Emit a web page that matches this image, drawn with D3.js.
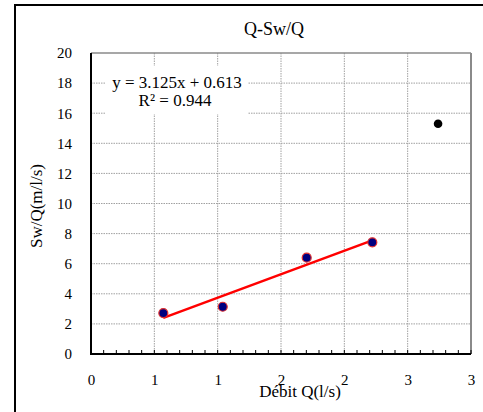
<!DOCTYPE html>
<html><head><meta charset="utf-8">
<script src="https://cdn.jsdelivr.net/npm/d3@7"></script>
<style>body{margin:0;background:#fff}svg{display:block}svg text{font-family:"Liberation Serif","Times New Roman",serif !important;fill:#000}</style>
</head><body><div id="chart"></div>
<script>
const fitX = [0.571, 1.040, 1.703, 2.221];
const fitY = [2.72, 3.14, 6.40, 7.42];
const outX = [2.74];
const outY = [15.3];
const slope = 3.125, intercept = 0.613, r2 = 0.944;
const xTicks = [0, 0.5, 1, 1.5, 2, 2.5, 3];
const xTickLabels = ["0", "1", "1", "2", "2", "3", "3"];
const yTicks = [0, 2, 4, 6, 8, 10, 12, 14, 16, 18, 20];
const title = "Q-Sw/Q", xTitle = "Débit Q(l/s)", yTitle = "Sw/Q(m/l/s)";

const W = 483, H = 412;
const L = 91, R = 471, T = 53, B = 354;
const FF = '"Liberation Serif","Times New Roman",serif';
const svg = d3.select("#chart").append("svg").attr("width", W).attr("height", H)
  .style("font-family", FF);
svg.append("rect").attr("x", 15).attr("y", 5).attr("width", 520).attr("height", 500)
  .attr("fill", "none").attr("stroke", "#000").attr("stroke-width", 2);

const x = d3.scaleLinear().domain([0, 3]).range([L, R]);
const y = d3.scaleLinear().domain([0, 20]).range([B, T]);

// grid
const g = svg.append("g");
g.selectAll(".hg").data(yTicks.filter(d => d > 0 && d < 20)).join("line")
  .attr("x1", L).attr("x2", R).attr("y1", d => y(d)).attr("y2", d => y(d))
  .attr("stroke", "#a0a0a0").attr("stroke-width", 1).attr("stroke-dasharray", "1.5,1");
g.selectAll(".vg").data(xTicks.filter(d => d > 0 && d < 3)).join("line")
  .attr("y1", T).attr("y2", B).attr("x1", d => x(d)).attr("x2", d => x(d))
  .attr("stroke", "#a0a0a0").attr("stroke-width", 1).attr("stroke-dasharray", "1.5,1");
// plot border top/right
svg.append("line").attr("x1", L).attr("x2", R).attr("y1", T).attr("y2", T).attr("stroke", "#8a8a8a").attr("stroke-width", 1.5);
svg.append("line").attr("x1", R).attr("x2", R).attr("y1", T).attr("y2", B).attr("stroke", "#8a8a8a").attr("stroke-width", 2);

// equation label box
const eq = svg.append("g");
eq.append("rect").attr("x", 105).attr("y", 66).attr("width", 143).attr("height", 48).attr("fill", "#fff");
eq.append("text").attr("x", 177).attr("y", 88).attr("text-anchor", "middle").attr("font-size", 17)
  .style("font-family", FF).text(`y = ${slope.toFixed(3)}x + ${intercept.toFixed(3)}`);
eq.append("text").attr("x", 175).attr("y", 106).attr("text-anchor", "middle").attr("font-size", 17)
  .style("font-family", FF).text(`R² = ${r2.toFixed(3)}`);

// x axis
const xAxis = d3.axisBottom(x).tickValues(xTicks).tickFormat((d, i) => xTickLabels[i]).tickSize(0).tickPadding(20);
const xa = svg.append("g").attr("transform", `translate(0,${B})`).call(xAxis);
xa.attr("font-family", null);
xa.select(".domain").remove();
xa.selectAll("text").attr("font-size", 15).style("font-family", FF);
const minor = d3.range(0, 31).map(i => i / 10);
svg.selectAll(".mt").data(minor).join("line")
  .attr("x1", d => x(d)).attr("x2", d => x(d)).attr("y1", B).attr("y2", B - 4)
  .attr("stroke", "#000").attr("stroke-width", 1);
// y axis
const yAxis = d3.axisLeft(y).tickValues(yTicks).tickSize(0).tickPadding(19);
const ya = svg.append("g").attr("transform", `translate(${L},0)`).call(yAxis);
ya.attr("font-family", null);
ya.select(".domain").remove();
ya.selectAll("text").attr("font-size", 15).style("font-family", FF);

svg.append("line").attr("x1", L).attr("x2", L).attr("y1", T).attr("y2", B + 1).attr("stroke", "#000").attr("stroke-width", 2);
svg.append("line").attr("x1", L - 1).attr("x2", R).attr("y1", B).attr("y2", B).attr("stroke", "#000").attr("stroke-width", 2);

// trendline
const xmin = d3.min(fitX), xmax = d3.max(fitX);
svg.append("line").attr("x1", x(xmin)).attr("y1", y(slope * xmin + intercept))
  .attr("x2", x(xmax)).attr("y2", y(slope * xmax + intercept))
  .attr("stroke", "#ff0000").attr("stroke-width", 2.5);

// points
svg.selectAll(".p").data(fitX.map((d, i) => [d, fitY[i]])).join("circle")
  .attr("cx", d => x(d[0])).attr("cy", d => y(d[1])).attr("r", 4.5)
  .attr("fill", "#000080").attr("stroke", "#e03030").attr("stroke-width", 1.2);
svg.selectAll(".o").data(outX.map((d, i) => [d, outY[i]])).join("circle")
  .attr("cx", d => x(d[0])).attr("cy", d => y(d[1])).attr("r", 4.3).attr("fill", "#000");

// titles
svg.append("text").attr("x", 274).attr("y", 35).attr("text-anchor", "middle").attr("font-size", 18).style("font-family", FF).text(title);
svg.append("text").attr("x", 300).attr("y", 397).attr("text-anchor", "middle").attr("font-size", 17).style("font-family", FF).text(xTitle);
svg.append("text").attr("transform", "translate(42,206) rotate(-90)").attr("text-anchor", "middle").attr("font-size", 17).style("font-family", FF).text(yTitle);
</script></body></html>
